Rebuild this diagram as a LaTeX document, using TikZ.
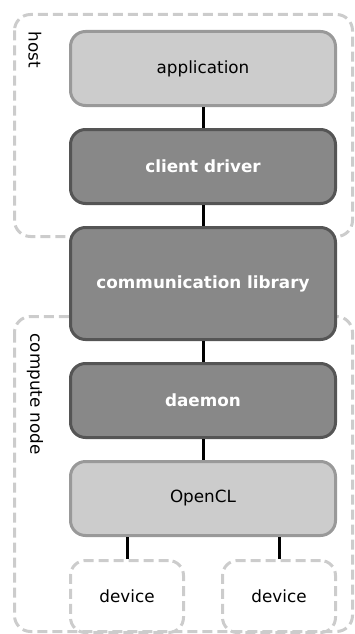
\documentclass[tikz,border=0pt]{standalone}
\usepackage{fontspec}
\setmainfont{DejaVu Sans}
\usetikzlibrary{positioning}
\definecolor{lightfill}{HTML}{CCCCCC}
\definecolor{lightline}{HTML}{999999}
\definecolor{darkfill}{HTML}{888888}
\definecolor{darkline}{HTML}{555555}
\definecolor{dashgray}{HTML}{CCCCCC}

\begin{document}
\begin{tikzpicture}[x=1pt,y=1pt,node distance=21pt,
  every node/.style = {font=\fontsize{16.8}{20}\selectfont},
  lightbox/.style = {draw=lightline, fill=lightfill, line width=3pt, rounded corners=15pt, minimum width=265pt, minimum height=74pt},
  darkbox/.style = {lightbox, draw=darkline, fill=darkfill, text=white, font=\fontsize{16.8}{20}\selectfont\bfseries},
  groupline/.style = {draw=dashgray, line width=3pt, dash pattern=on 10pt off 5pt, rounded corners=16pt},
  devbox/.style = {groupline, rounded corners=15pt, minimum width=113pt, minimum height=72pt},
  link/.style = {line width=3pt}]
\useasboundingbox (0,0) rectangle (355,-634);
% host and compute node
\draw[groupline] (14.5,-14.5) rectangle (352.5,-236.5);
\draw[groupline] (14.5,-316.5) rectangle (352.5,-631.5);
\node[rotate=-90, anchor=west] (hostlbl) at (35,-28) {host};
\node[rotate=-90, anchor=west] (nodelbl) at (35,-330) {compute node};
% stack
\node[lightbox] (app) at (203,-68.5) {application};
\node[darkbox, below=of app] (drv) {client driver};
\node[darkbox, below=of drv, minimum height=112pt] (comm) {communication library};
\node[darkbox, below=of comm] (daemon) {daemon};
\node[lightbox, below=of daemon] (ocl) {OpenCL};
\node[devbox, below=22pt of ocl, xshift=-76pt] (dev1) {device};
\node[devbox, below=22pt of ocl, xshift=76pt] (dev2) {device};
\draw[link] (app) -- (drv);
\draw[link] (drv) -- (comm);
\draw[link] (comm) -- (daemon);
\draw[link] (daemon) -- (ocl);
\draw[link] (dev1.north) -- (dev1.north |- ocl.south);
\draw[link] (dev2.north) -- (dev2.north |- ocl.south);
\end{tikzpicture}
\end{document}
